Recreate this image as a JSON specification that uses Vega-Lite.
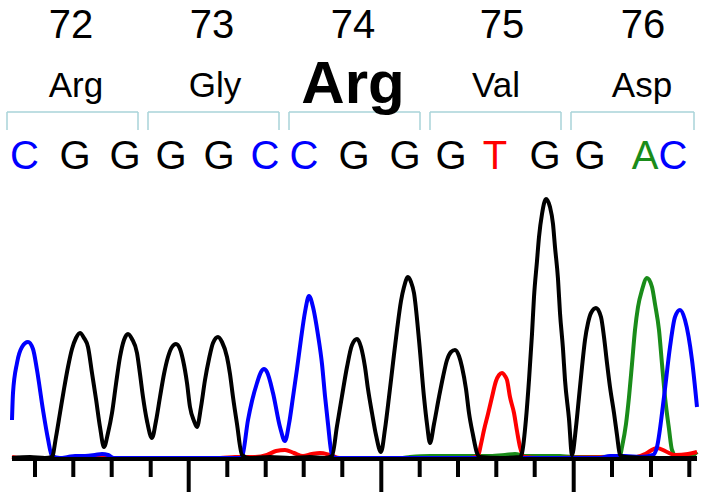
{
  "$schema": "https://vega.github.io/schema/vega-lite/v6.json",
  "width": 704,
  "height": 499,
  "padding": 0,
  "autosize": {"type": "fit", "contains": "padding"},
  "background": "white",
  "config": {"view": {"stroke": null}, "text": {"font": "Liberation Sans"}},
  "datasets": {
    "traces": [
      {"dye":"A","x":12,"h":1},{"dye":"A","x":400,"h":1},{"dye":"A","x":410,"h":2},{"dye":"A","x":430,"h":3},{"dye":"A","x":460,"h":3},{"dye":"A","x":490,"h":3},{"dye":"A","x":505,"h":4},{"dye":"A","x":515,"h":5},{"dye":"A","x":525,"h":3},{"dye":"A","x":545,"h":3},{"dye":"A","x":560,"h":3},{"dye":"A","x":572,"h":2},{"dye":"A","x":600,"h":2},{"dye":"A","x":620,"h":3},{"dye":"A","x":622,"h":12},{"dye":"A","x":626,"h":35},{"dye":"A","x":629,"h":62},{"dye":"A","x":632,"h":95},{"dye":"A","x":635,"h":129},{"dye":"A","x":638,"h":152},{"dye":"A","x":642,"h":169},{"dye":"A","x":647,"h":181},{"dye":"A","x":652,"h":172},{"dye":"A","x":655,"h":155},{"dye":"A","x":659,"h":129},{"dye":"A","x":662,"h":95},{"dye":"A","x":665,"h":62},{"dye":"A","x":669,"h":30},{"dye":"A","x":672,"h":9},{"dye":"A","x":677,"h":2},{"dye":"A","x":690,"h":2},{"dye":"A","x":697,"h":7},
      {"dye":"T","x":12,"h":2},{"dye":"T","x":20,"h":1},{"dye":"T","x":40,"h":1},{"dye":"T","x":220,"h":1},{"dye":"T","x":235,"h":2},{"dye":"T","x":255,"h":2},{"dye":"T","x":267,"h":4},{"dye":"T","x":276,"h":8},{"dye":"T","x":285,"h":9},{"dye":"T","x":294,"h":6},{"dye":"T","x":303,"h":3},{"dye":"T","x":312,"h":5},{"dye":"T","x":320,"h":6},{"dye":"T","x":330,"h":4},{"dye":"T","x":340,"h":1},{"dye":"T","x":470,"h":1},{"dye":"T","x":478,"h":3},{"dye":"T","x":481,"h":15},{"dye":"T","x":484,"h":29},{"dye":"T","x":488,"h":45},{"dye":"T","x":492,"h":62},{"dye":"T","x":496,"h":78},{"dye":"T","x":499,"h":84},{"dye":"T","x":502,"h":86},{"dye":"T","x":505,"h":83},{"dye":"T","x":507,"h":79},{"dye":"T","x":510,"h":62},{"dye":"T","x":514,"h":46},{"dye":"T","x":517,"h":28},{"dye":"T","x":520,"h":12},{"dye":"T","x":524,"h":2},{"dye":"T","x":540,"h":1},{"dye":"T","x":620,"h":2},{"dye":"T","x":635,"h":2},{"dye":"T","x":645,"h":5},{"dye":"T","x":657,"h":11},{"dye":"T","x":667,"h":7},{"dye":"T","x":675,"h":4},{"dye":"T","x":688,"h":5},{"dye":"T","x":697,"h":7},
      {"dye":"C","x":12,"h":39},{"dye":"C","x":13,"h":66},{"dye":"C","x":17,"h":96},{"dye":"C","x":22,"h":112},{"dye":"C","x":28,"h":117},{"dye":"C","x":33,"h":110},{"dye":"C","x":37,"h":89},{"dye":"C","x":43,"h":49},{"dye":"C","x":48,"h":20},{"dye":"C","x":52,"h":3},{"dye":"C","x":60,"h":1},{"dye":"C","x":68,"h":2},{"dye":"C","x":75,"h":3},{"dye":"C","x":85,"h":3},{"dye":"C","x":95,"h":4},{"dye":"C","x":102,"h":5},{"dye":"C","x":108,"h":4},{"dye":"C","x":114,"h":1},{"dye":"C","x":240,"h":1},{"dye":"C","x":242,"h":2},{"dye":"C","x":248,"h":39},{"dye":"C","x":252,"h":58},{"dye":"C","x":257,"h":76},{"dye":"C","x":261,"h":87},{"dye":"C","x":264,"h":90},{"dye":"C","x":267,"h":87},{"dye":"C","x":273,"h":66},{"dye":"C","x":280,"h":32},{"dye":"C","x":285,"h":18},{"dye":"C","x":289,"h":35},{"dye":"C","x":293,"h":62},{"dye":"C","x":297,"h":90},{"dye":"C","x":301,"h":120},{"dye":"C","x":305,"h":147},{"dye":"C","x":309,"h":163},{"dye":"C","x":313,"h":152},{"dye":"C","x":318,"h":124},{"dye":"C","x":322,"h":95},{"dye":"C","x":325,"h":63},{"dye":"C","x":328,"h":35},{"dye":"C","x":332,"h":4},{"dye":"C","x":336,"h":1},{"dye":"C","x":600,"h":1},{"dye":"C","x":610,"h":3},{"dye":"C","x":625,"h":3},{"dye":"C","x":640,"h":2},{"dye":"C","x":653,"h":4},{"dye":"C","x":657,"h":12},{"dye":"C","x":664,"h":62},{"dye":"C","x":670,"h":112},{"dye":"C","x":675,"h":142},{"dye":"C","x":680,"h":149},{"dye":"C","x":685,"h":139},{"dye":"C","x":692,"h":99},{"dye":"C","x":697,"h":52},
      {"dye":"G","x":12,"h":1},{"dye":"G","x":30,"h":2},{"dye":"G","x":45,"h":1},{"dye":"G","x":52,"h":2},{"dye":"G","x":56,"h":22},{"dye":"G","x":60,"h":46},{"dye":"G","x":64,"h":70},{"dye":"G","x":68,"h":92},{"dye":"G","x":72,"h":110},{"dye":"G","x":76,"h":121},{"dye":"G","x":80,"h":126},{"dye":"G","x":84,"h":121},{"dye":"G","x":88,"h":112},{"dye":"G","x":92,"h":86},{"dye":"G","x":96,"h":60},{"dye":"G","x":100,"h":32},{"dye":"G","x":104,"h":12},{"dye":"G","x":108,"h":26},{"dye":"G","x":112,"h":46},{"dye":"G","x":116,"h":75},{"dye":"G","x":120,"h":102},{"dye":"G","x":124,"h":119},{"dye":"G","x":128,"h":125},{"dye":"G","x":132,"h":120},{"dye":"G","x":137,"h":106},{"dye":"G","x":140,"h":85},{"dye":"G","x":143,"h":62},{"dye":"G","x":147,"h":38},{"dye":"G","x":152,"h":21},{"dye":"G","x":156,"h":38},{"dye":"G","x":160,"h":62},{"dye":"G","x":164,"h":85},{"dye":"G","x":168,"h":102},{"dye":"G","x":172,"h":112},{"dye":"G","x":176,"h":115},{"dye":"G","x":180,"h":110},{"dye":"G","x":183,"h":99},{"dye":"G","x":187,"h":76},{"dye":"G","x":190,"h":52},{"dye":"G","x":194,"h":38},{"dye":"G","x":197,"h":32},{"dye":"G","x":201,"h":52},{"dye":"G","x":205,"h":79},{"dye":"G","x":209,"h":100},{"dye":"G","x":213,"h":116},{"dye":"G","x":218,"h":122},{"dye":"G","x":222,"h":117},{"dye":"G","x":227,"h":102},{"dye":"G","x":230,"h":85},{"dye":"G","x":233,"h":62},{"dye":"G","x":237,"h":35},{"dye":"G","x":242,"h":4},{"dye":"G","x":250,"h":1},{"dye":"G","x":270,"h":2},{"dye":"G","x":290,"h":1},{"dye":"G","x":310,"h":2},{"dye":"G","x":325,"h":1},{"dye":"G","x":332,"h":3},{"dye":"G","x":337,"h":33},{"dye":"G","x":342,"h":63},{"dye":"G","x":347,"h":92},{"dye":"G","x":352,"h":114},{"dye":"G","x":357,"h":120},{"dye":"G","x":361,"h":112},{"dye":"G","x":365,"h":92},{"dye":"G","x":368,"h":70},{"dye":"G","x":372,"h":46},{"dye":"G","x":376,"h":24},{"dye":"G","x":381,"h":7},{"dye":"G","x":385,"h":30},{"dye":"G","x":389,"h":62},{"dye":"G","x":393,"h":96},{"dye":"G","x":397,"h":129},{"dye":"G","x":401,"h":158},{"dye":"G","x":404,"h":172},{"dye":"G","x":408,"h":182},{"dye":"G","x":411,"h":177},{"dye":"G","x":414,"h":166},{"dye":"G","x":419,"h":119},{"dye":"G","x":424,"h":62},{"dye":"G","x":427,"h":35},{"dye":"G","x":430,"h":16},{"dye":"G","x":434,"h":35},{"dye":"G","x":439,"h":62},{"dye":"G","x":443,"h":82},{"dye":"G","x":447,"h":99},{"dye":"G","x":451,"h":107},{"dye":"G","x":455,"h":109},{"dye":"G","x":459,"h":103},{"dye":"G","x":462,"h":92},{"dye":"G","x":466,"h":70},{"dye":"G","x":469,"h":46},{"dye":"G","x":473,"h":24},{"dye":"G","x":477,"h":6},{"dye":"G","x":480,"h":2},{"dye":"G","x":500,"h":1},{"dye":"G","x":520,"h":2},{"dye":"G","x":522,"h":6},{"dye":"G","x":526,"h":40},{"dye":"G","x":529,"h":79},{"dye":"G","x":532,"h":125},{"dye":"G","x":534,"h":162},{"dye":"G","x":537,"h":198},{"dye":"G","x":539,"h":222},{"dye":"G","x":542,"h":245},{"dye":"G","x":546,"h":260},{"dye":"G","x":550,"h":252},{"dye":"G","x":553,"h":235},{"dye":"G","x":555,"h":212},{"dye":"G","x":558,"h":180},{"dye":"G","x":560,"h":146},{"dye":"G","x":563,"h":110},{"dye":"G","x":565,"h":79},{"dye":"G","x":569,"h":40},{"dye":"G","x":572,"h":4},{"dye":"G","x":576,"h":32},{"dye":"G","x":579,"h":62},{"dye":"G","x":582,"h":92},{"dye":"G","x":585,"h":119},{"dye":"G","x":588,"h":136},{"dye":"G","x":591,"h":146},{"dye":"G","x":596,"h":151},{"dye":"G","x":601,"h":142},{"dye":"G","x":604,"h":122},{"dye":"G","x":607,"h":96},{"dye":"G","x":610,"h":72},{"dye":"G","x":614,"h":46},{"dye":"G","x":617,"h":24},{"dye":"G","x":620,"h":4},{"dye":"G","x":625,"h":2},{"dye":"G","x":660,"h":1},{"dye":"G","x":697,"h":1}
    ],
    "bases": [
      {"dye":"C","pos":24.5},{"dye":"G","pos":75},{"dye":"G","pos":125},{"dye":"G","pos":171},{"dye":"G","pos":219},{"dye":"C","pos":265},{"dye":"C","pos":304},{"dye":"G","pos":354},{"dye":"G","pos":405},{"dye":"G","pos":451},{"dye":"T","pos":495},{"dye":"G","pos":545},{"dye":"G","pos":590},{"dye":"A","pos":645},{"dye":"C","pos":673}
    ],
    "codons": [
      {"codon":72,"aa":"Arg","numX":71,"aaX":76,"from":7,"to":138},
      {"codon":73,"aa":"Gly","numX":212,"aaX":215,"from":148,"to":279},
      {"codon":74,"aa":"Arg","numX":353,"aaX":353,"from":289,"to":420},
      {"codon":75,"aa":"Val","numX":502,"aaX":496,"from":430,"to":561},
      {"codon":76,"aa":"Asp","numX":643,"aaX":642,"from":571,"to":694}
    ],
    "ticks": [
      {"x":35,"major":false},{"x":73.3,"major":false},{"x":111.7,"major":false},{"x":150.7,"major":false},{"x":188.7,"major":true},{"x":227.3,"major":false},{"x":265.7,"major":false},{"x":303.7,"major":false},{"x":342.3,"major":false},{"x":381.3,"major":true},{"x":419.7,"major":false},{"x":458,"major":false},{"x":496.3,"major":false},{"x":534.7,"major":false},{"x":573.7,"major":true},{"x":612,"major":false},{"x":651,"major":false},{"x":689.3,"major":false}
    ]
  },
  "layer": [
    {
      "data": {"name": "ticks"},
      "transform": [{"filter": "!datum.major"}],
      "mark": {"type": "rule", "strokeWidth": 4, "color": "black"},
      "encoding": {
        "x": {"field": "x", "type": "quantitative", "scale": {"domain": [0, 704], "nice": false, "zero": false}, "axis": null},
        "y": {"datum": 0, "type": "quantitative", "scale": {"domain": [-40, 459], "nice": false, "zero": false}, "axis": null},
        "y2": {"datum": -18}
      }
    },
    {
      "data": {"name": "ticks"},
      "transform": [{"filter": "datum.major"}],
      "mark": {"type": "rule", "strokeWidth": 4, "color": "black"},
      "encoding": {
        "x": {"field": "x", "type": "quantitative", "scale": {"domain": [0, 704], "nice": false, "zero": false}, "axis": null},
        "y": {"datum": 0, "type": "quantitative", "scale": {"domain": [-40, 459], "nice": false, "zero": false}, "axis": null},
        "y2": {"datum": -33}
      }
    },
    {
      "data": {"name": "traces"},
      "mark": {"type": "line", "interpolate": "monotone", "strokeWidth": 4, "strokeJoin": "round"},
      "encoding": {
        "x": {"field": "x", "type": "quantitative", "scale": {"domain": [0, 704], "nice": false, "zero": false}, "axis": null},
        "y": {"field": "h", "type": "quantitative", "scale": {"domain": [-40, 459], "nice": false, "zero": false}, "axis": null},
        "color": {"field": "dye", "type": "nominal", "scale": {"domain": ["A", "C", "G", "T"], "range": ["#1a8c1a", "#0000ff", "#000000", "#ff0000"]}, "legend": null},
        "order": {"field": "x", "type": "quantitative"}
      }
    },
    {
      "data": {"name": "ticks"},
      "mark": {"type": "rule", "strokeWidth": 4, "color": "black"},
      "transform": [{"filter": "datum.x < 40"}],
      "encoding": {
        "x": {"datum": 12, "type": "quantitative", "scale": {"domain": [0, 704], "nice": false, "zero": false}, "axis": null},
        "x2": {"datum": 697},
        "y": {"datum": 0, "type": "quantitative", "scale": {"domain": [-40, 459], "nice": false, "zero": false}, "axis": null}
      }
    },
    {
      "data": {"name": "bases"},
      "mark": {"type": "text", "fontSize": 40, "align": "center", "baseline": "alphabetic"},
      "encoding": {
        "x": {"field": "pos", "type": "quantitative", "scale": {"domain": [0, 704], "nice": false, "zero": false}, "axis": null},
        "y": {"datum": 290, "type": "quantitative", "scale": {"domain": [-40, 459], "nice": false, "zero": false}, "axis": null},
        "text": {"field": "dye"},
        "color": {"field": "dye", "type": "nominal", "scale": {"domain": ["A", "C", "G", "T"], "range": ["#1a8c1a", "#0000ff", "#000000", "#ff0000"]}, "legend": null}
      }
    },
    {
      "data": {"name": "codons"},
      "mark": {"type": "rule", "strokeWidth": 1.5, "color": "#a9d3d9"},
      "encoding": {
        "x": {"field": "from", "type": "quantitative", "scale": {"domain": [0, 704], "nice": false, "zero": false}, "axis": null},
        "x2": {"field": "to"},
        "y": {"datum": 347, "type": "quantitative", "scale": {"domain": [-40, 459], "nice": false, "zero": false}, "axis": null}
      }
    },
    {
      "data": {"name": "codons"},
      "mark": {"type": "rule", "strokeWidth": 1.5, "color": "#a9d3d9"},
      "encoding": {
        "x": {"field": "from", "type": "quantitative", "scale": {"domain": [0, 704], "nice": false, "zero": false}, "axis": null},
        "y": {"datum": 347, "type": "quantitative", "scale": {"domain": [-40, 459], "nice": false, "zero": false}, "axis": null},
        "y2": {"datum": 329}
      }
    },
    {
      "data": {"name": "codons"},
      "mark": {"type": "rule", "strokeWidth": 1.5, "color": "#a9d3d9"},
      "encoding": {
        "x": {"field": "to", "type": "quantitative", "scale": {"domain": [0, 704], "nice": false, "zero": false}, "axis": null},
        "y": {"datum": 347, "type": "quantitative", "scale": {"domain": [-40, 459], "nice": false, "zero": false}, "axis": null},
        "y2": {"datum": 329}
      }
    },
    {
      "data": {"name": "codons"},
      "mark": {"type": "text", "fontSize": 40, "align": "center", "baseline": "alphabetic", "color": "black"},
      "encoding": {
        "x": {"field": "numX", "type": "quantitative", "scale": {"domain": [0, 704], "nice": false, "zero": false}, "axis": null},
        "y": {"datum": 421, "type": "quantitative", "scale": {"domain": [-40, 459], "nice": false, "zero": false}, "axis": null},
        "text": {"field": "codon", "type": "nominal"}
      }
    },
    {
      "data": {"name": "codons"},
      "transform": [{"filter": "datum.codon != 74"}],
      "mark": {"type": "text", "fontSize": 35, "align": "center", "baseline": "alphabetic", "color": "black"},
      "encoding": {
        "x": {"field": "aaX", "type": "quantitative", "scale": {"domain": [0, 704], "nice": false, "zero": false}, "axis": null},
        "y": {"datum": 362, "type": "quantitative", "scale": {"domain": [-40, 459], "nice": false, "zero": false}, "axis": null},
        "text": {"field": "aa"}
      }
    },
    {
      "data": {"name": "codons"},
      "transform": [{"filter": "datum.codon == 74"}],
      "mark": {"type": "text", "fontSize": 60, "fontWeight": "bold", "align": "center", "baseline": "alphabetic", "color": "black"},
      "encoding": {
        "x": {"field": "aaX", "type": "quantitative", "scale": {"domain": [0, 704], "nice": false, "zero": false}, "axis": null},
        "y": {"datum": 356, "type": "quantitative", "scale": {"domain": [-40, 459], "nice": false, "zero": false}, "axis": null},
        "text": {"field": "aa"}
      }
    }
  ]
}
